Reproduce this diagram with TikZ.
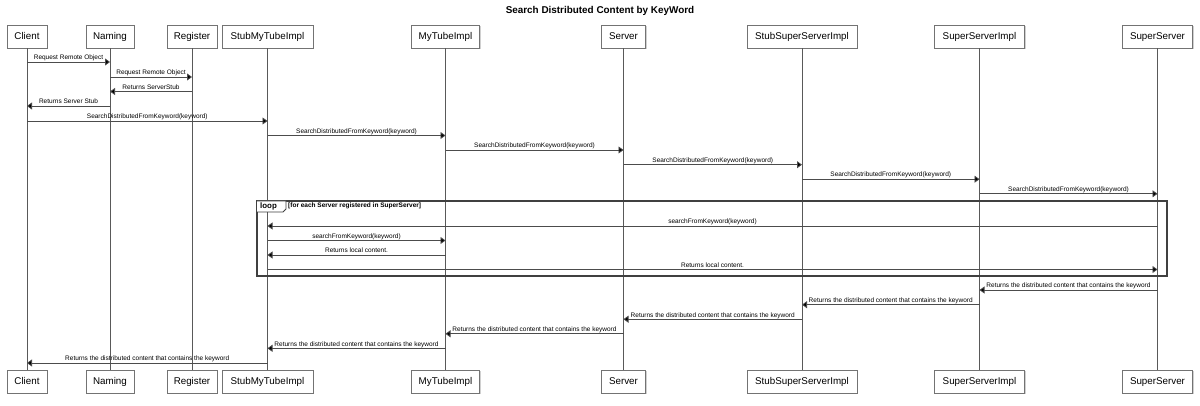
\documentclass[tikz,border=0pt]{standalone}
\usepackage{fontspec}
\setmainfont{Liberation Sans}
\usetikzlibrary{arrows.meta,shadows}
\begin{document}
\begin{tikzpicture}[x=1pt,y=-1pt,
  part/.style={draw=black!55, fill=white, line width=0.8pt, minimum height=23pt, inner sep=0pt,
    font=\fontsize{9.8}{11}\selectfont, text height=7pt, text depth=1.5pt,
    drop shadow={shadow xshift=1.2pt, shadow yshift=-1.2pt, fill=black!30, opacity=0.6}},
  life/.style={draw=black!65, line width=0.7pt},
  msg/.style={draw=black!70, line width=0.8pt, -{Triangle[length=5pt,width=7pt,fill=black]}},
  lbl/.style={font=\fontsize{6.5}{7}\selectfont, anchor=base, yshift=2.2pt, inner sep=0pt},
  loopframe/.style={draw=black!75, line width=1.3pt},
  looptab/.style={draw=black!75, line width=0.8pt, fill=white},
]
\useasboundingbox[fill=white] (0,0) rectangle (1200,406);

\node[font=\bfseries\fontsize{9.9}{11}\selectfont, anchor=base, inner sep=0pt] (title) at (600,13.7) {Search Distributed Content by KeyWord};

% top participants
\node[part, minimum width=40] (clT) at (27,36.5) {Client};
\node[part, minimum width=48] (naT) at (110,36.5) {Naming};
\node[part, minimum width=50] (reT) at (192,36.5) {Register};
\node[part, minimum width=91] (smT) at (267.5,36.5) {StubMyTubeImpl};
\node[part, minimum width=68] (myT) at (445.5,36.5) {MyTubeImpl};
\node[part, minimum width=44] (seT) at (623.5,36.5) {Server};
\node[part, minimum width=110] (ssT) at (802,36.5) {StubSuperServerImpl};
\node[part, minimum width=90] (siT) at (979.5,36.5) {SuperServerImpl};
\node[part, minimum width=70] (suT) at (1157.5,36.5) {SuperServer};
% bottom participants
\node[part, minimum width=40] (clB) at (27,381.5) {Client};
\node[part, minimum width=48] (naB) at (110,381.5) {Naming};
\node[part, minimum width=50] (reB) at (192,381.5) {Register};
\node[part, minimum width=91] (smB) at (267.5,381.5) {StubMyTubeImpl};
\node[part, minimum width=68] (myB) at (445.5,381.5) {MyTubeImpl};
\node[part, minimum width=44] (seB) at (623.5,381.5) {Server};
\node[part, minimum width=110] (ssB) at (802,381.5) {StubSuperServerImpl};
\node[part, minimum width=90] (siB) at (979.5,381.5) {SuperServerImpl};
\node[part, minimum width=70] (suB) at (1157.5,381.5) {SuperServer};

% lifelines
\foreach \p in {cl,na,re,sm,my,se,ss,si,su}
  \draw[life] (\p T.south) -- (\p B.north);

% loop frame
\draw[loopframe, fill=none] (257,201) rectangle (1167,276);
\draw[looptab] (257,201) -- (286,201) -- (286,209) -- (283,212) -- (257,212);
\node[font=\bfseries\fontsize{7.9}{9}\selectfont, anchor=base west, inner sep=0pt] (looplbl) at (260,208.3) {loop};
\node[font=\bfseries\fontsize{6.5}{7}\selectfont, anchor=base west, inner sep=0pt] (loopcond) at (288,207.8) {[for each Server registered in SuperServer]};

\newcommand{\seqmsg}[4]{\draw[msg] (#1 |- 0,#3) -- node[lbl] {#4} (#2 |- 0,#3);}

\seqmsg{clT}{naT}{62}{Request Remote Object}
\seqmsg{naT}{reT}{77}{Request Remote Object}
\seqmsg{reT}{naT}{91.5}{Returns ServerStub}
\seqmsg{naT}{clT}{106}{Returns Server Stub}
\seqmsg{clT}{smT}{121}{SearchDistributedFromKeyword(keyword)}
\seqmsg{smT}{myT}{135.5}{SearchDistributedFromKeyword(keyword)}
\seqmsg{myT}{seT}{150}{SearchDistributedFromKeyword(keyword)}
\seqmsg{seT}{ssT}{164.7}{SearchDistributedFromKeyword(keyword)}
\seqmsg{ssT}{siT}{179.2}{SearchDistributedFromKeyword(keyword)}
\seqmsg{siT}{suT}{193.8}{SearchDistributedFromKeyword(keyword)}

\seqmsg{suT}{smT}{226}{searchFromKeyword(keyword)}
\seqmsg{smT}{myT}{240.5}{searchFromKeyword(keyword)}
\seqmsg{myT}{smT}{255}{Returns local content.}
\seqmsg{smT}{suT}{269.5}{Returns local content.}

\seqmsg{suT}{siT}{290}{Returns the distributed content that contains the keyword}
\seqmsg{siT}{ssT}{304.7}{Returns the distributed content that contains the keyword}
\seqmsg{ssT}{seT}{319.2}{Returns the distributed content that contains the keyword}
\seqmsg{seT}{myT}{333.8}{Returns the distributed content that contains the keyword}
\seqmsg{myT}{smT}{348.3}{Returns the distributed content that contains the keyword}
\seqmsg{smT}{clT}{363}{Returns the distributed content that contains the keyword}
\end{tikzpicture}
\end{document}
